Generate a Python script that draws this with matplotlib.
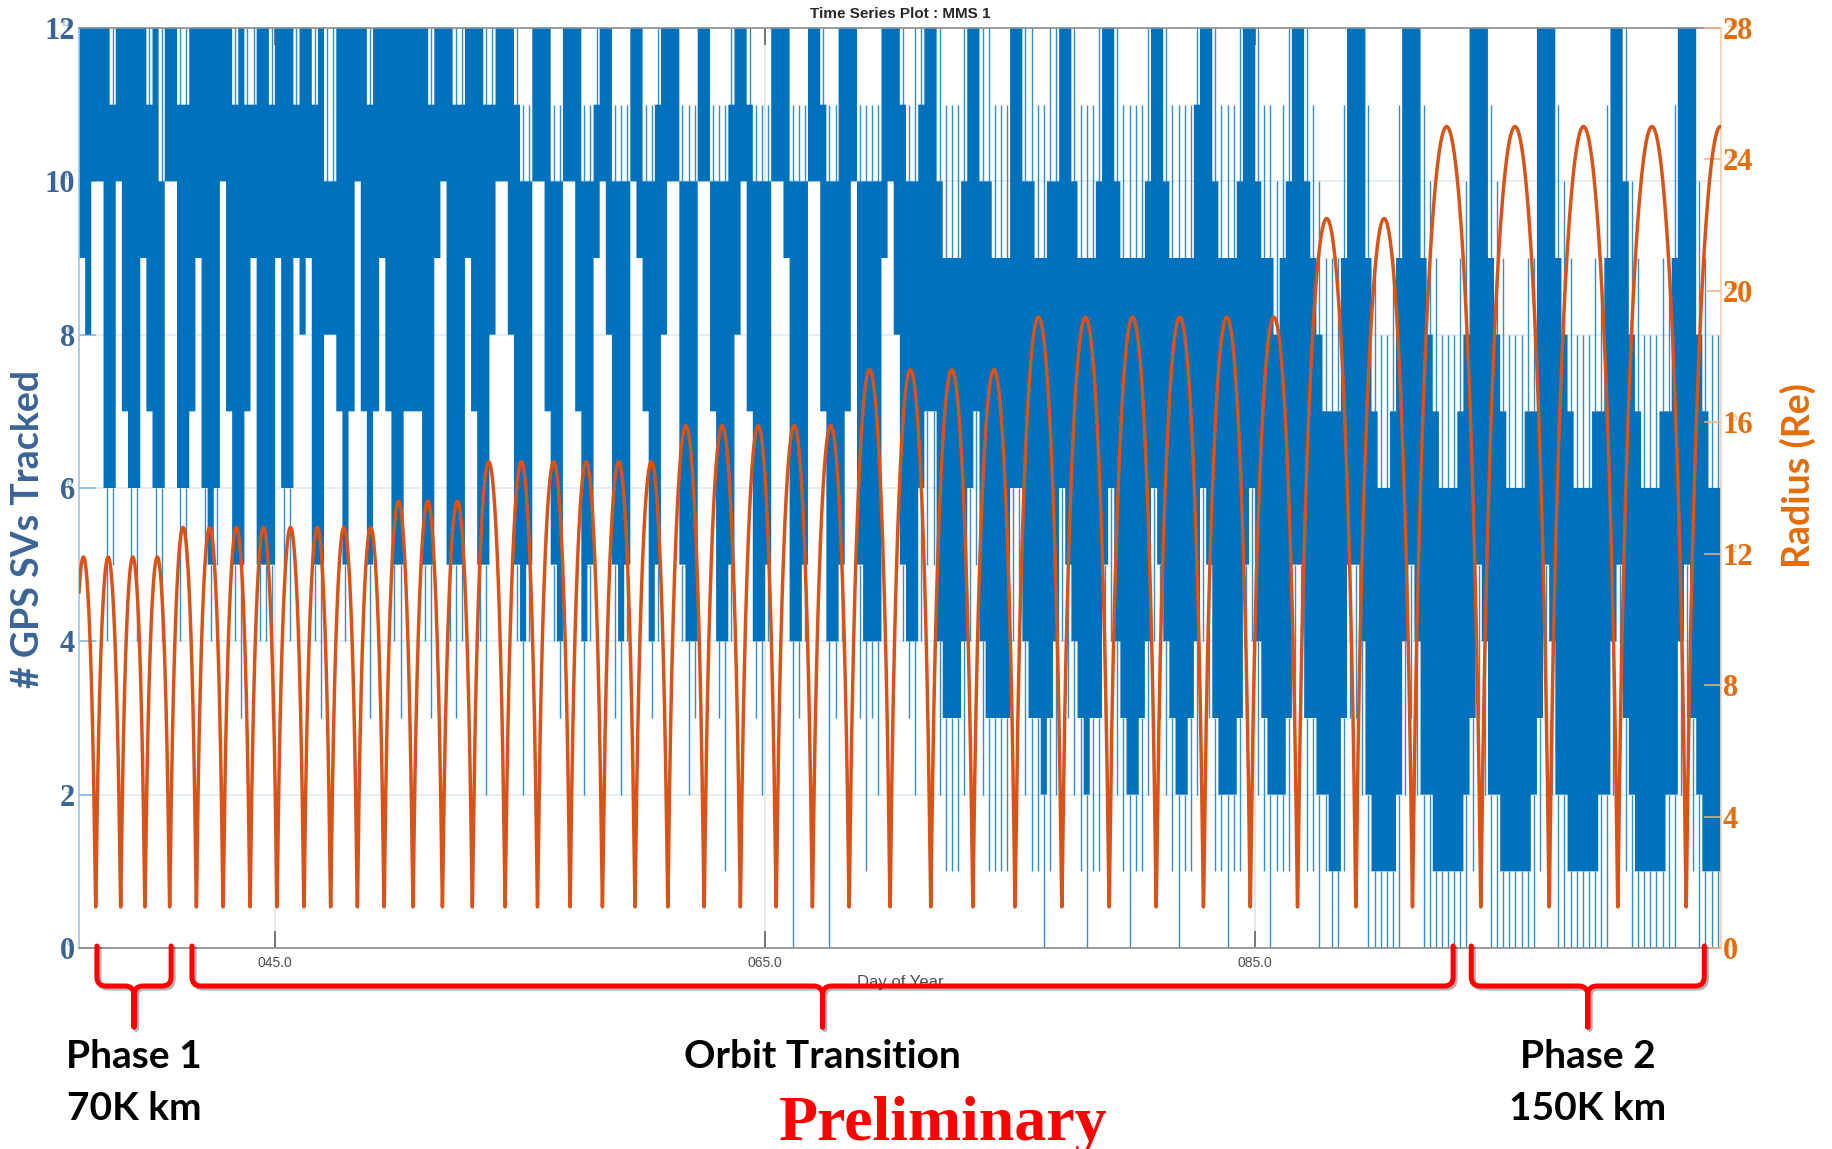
import numpy as np
import matplotlib
matplotlib.use("Agg")
import matplotlib.pyplot as plt
from matplotlib.path import Path
from matplotlib.patches import PathPatch
import matplotlib.patheffects as pe
import matplotlib.transforms as mtransforms

# ------------------------------------------------------------------ data
# Perigee passes (day of year) bounding each orbit, and the apogee radius (Re) of each orbit
perigee_days = [36.68, 37.68, 38.70, 39.69, 40.70, 41.79, 42.88, 43.98, 45.08, 46.18,
                47.27, 48.36, 49.45, 50.63, 51.83, 53.05, 54.39, 55.71, 57.04, 58.36,
                59.69, 61.03, 62.51, 63.99, 65.45, 66.93, 68.43, 70.10, 71.76, 73.48,
                75.20, 77.11, 79.04, 80.96, 82.89, 84.80, 86.73, 89.11, 91.42, 94.21,
                97.00, 99.80, 102.59, 105.38]
apogee_re = [11.9, 11.9, 11.9, 11.9,
             12.8, 12.8, 12.8, 12.8, 12.8, 12.8, 12.8, 12.8,
             13.6, 13.6, 13.6,
             14.8, 14.8, 14.8, 14.8, 14.8, 14.8,
             15.9, 15.9, 15.9, 15.9, 15.9,
             17.6, 17.6, 17.6, 17.6,
             19.2, 19.2, 19.2, 19.2, 19.2, 19.2,
             22.2, 22.2,
             25.0, 25.0, 25.0, 25.0, 25.0]
perigee_re = 1.25

# Number of GPS SVs tracked, per 0.25-day bin (hex digits, c = 12):
# the band the count stays in most of the time ...
svs_start_day = 37.0
svs_bin_days = 0.25
svs_high = ("cccccbcccc" "cbcaccbbcc" "cccccbcbbc" "cbcccbccbc" "aacccccbcc" "cccccccbcc" "cbbcccbb"
            "cccbaaccca" "acccaabcca" "aaccaabccc" "aaaccaaabc" "cbaaacccaa" "accbaaccca" "aaacccba"
            "abcca999ac" "caa999ccaa" "99aacca999" "acca9999ac" "ca9999bcca" "999acca998" "9acca9877"
            "79ccc97667" "9ccc987666" "78ccc98766" "677ccc9876" "66779cca87" "666779ccc8" "766")
svs_low = ("98aa66a766" "9766aa6679" "656a755795" "5596698955" "88757a7579" "755777559a" "55597558"
           "aa8545aa75" "4aa7459a85" "45a97458aa" "544aa74458" "a7445aa944" "5aa74457a5" "4449a854"
           "4677433346" "7433336643" "3234654323" "3564322346" "5432234653" "2223564322" "235533221"
           "1355421111" "2454221111" "1235422111" "1123542211" "1112245321" "1111224532" "111")
# ... and the extremes reached by brief jumps
svs_peak = ("cccccccccc" "cccccccccc" "cccccccccc" "cccccccccc" "cccccccccc" "cccccccccc" "cccccccc"
            "ccccbbcccb" "bcccbbcccb" "bbccbbcccc" "bbbccbbbcc" "ccbbbcccbb" "bcccbbcccb" "bbbccccb"
            "cccccbbbcc" "cccbbbcccc" "bbcccccbbb" "ccccbbbbcc" "ccbbbbcccc" "bbbccccbba" "bccccba99"
            "9bcccb9889" "bcccba9888" "9acccba988" "899cccba98" "8899bccca9" "88899bccca" "988")
svs_dip = ("98aa45a754" "9754aa4579" "545a743794" "4395498943" "88747a7379" "743777439a" "43497428"
           "aa8424aa74" "3aa7249a83" "24a97348aa" "423aa73148" "a7324aa903" "4aa70347a3" "1329a843"
           "2455211124" "5211114421" "1012432101" "1342101124" "3210112431" "1011342101" "113311010"
           "0133200000" "0232000000" "0013200000" "0001320000" "0000023100" "0000002310" "000")

x_limits = (37.0, 104.0)
x_ticks = [45, 65, 85]
x_tick_labels = ["045.0", "065.0", "085.0"]
left_ticks = [0, 2, 4, 6, 8, 10, 12]
right_ticks = [0, 4, 8, 12, 16, 20, 24, 28]

# Mission phases marked under the time axis: (line 1, line 2, first day, last day)
phases = [("Phase 1", "70K km", 37.73, 40.76),
          ("Orbit Transition", "", 41.61, 93.08),
          ("Phase 2", "150K km", 93.82, 103.33)]

# ------------------------------------------------------------------ derived series
def orbit_radius(t0, t1, ra, rp, n=700):
    """Radius along one Keplerian orbit between two perigee passes."""
    a = 0.5 * (ra + rp)
    e = (ra - rp) / (ra + rp)
    t = np.linspace(t0, t1, n)
    M = 2 * np.pi * (t - t0) / (t1 - t0)
    E = np.full_like(M, np.pi)
    for _ in range(40):
        E = E - (E - e * np.sin(E) - M) / (1 - e * np.cos(E))
    return t, a * (1 - e * np.cos(E))

t_parts, r_parts = [], []
for k, ra in enumerate(apogee_re):
    t, r = orbit_radius(perigee_days[k], perigee_days[k + 1], ra, perigee_re)
    t_parts.append(t)
    r_parts.append(r)
t_orbit = np.concatenate(t_parts)
r_orbit = np.concatenate(r_parts)
keep = (t_orbit >= x_limits[0]) & (t_orbit <= x_limits[1])
t_orbit, r_orbit = t_orbit[keep], r_orbit[keep]

def decode(s):
    return np.array([int(c, 16) for c in s], dtype=float)

svs_hi, svs_lo = decode(svs_high), decode(svs_low)
svs_top, svs_bot = decode(svs_peak), decode(svs_dip)
assert len(svs_hi) == len(svs_lo) == len(svs_top) == len(svs_bot)
svs_edges = svs_start_day + svs_bin_days * np.arange(len(svs_hi) + 1)

# ------------------------------------------------------------------ figure
W, H = 1833, 1149
fig = plt.figure(figsize=(W / 100, H / 100), dpi=100)
fig.patch.set_facecolor("white")
ax = fig.add_axes([79 / W, 1 - 948 / H, (1720.7 - 79) / W, 920 / H])
ax.set_axisbelow(True)

BLUE = "#0072BD"
ORANGE = "#D95319"
SLATE = "#3B6496"
AMBER = "#E46C0A"

ax.stairs(svs_hi, svs_edges, baseline=svs_lo, fill=True, color=BLUE, linewidth=0, zorder=1)

# brief jumps: one thin stroke in the middle of each bin
xs = svs_edges[:-1] + 0.5 * svs_bin_days
up = svs_top > svs_hi
dn = svs_bot < svs_lo
ax.vlines(xs[up], svs_hi[up], svs_top[up], colors=BLUE, linewidth=1.0, alpha=0.8, zorder=1)
ax.vlines(xs[dn], svs_bot[dn], svs_lo[dn], colors=BLUE, linewidth=1.0, alpha=0.8, zorder=1)

ax.set_xlim(*x_limits)
ax.set_ylim(0, 12)
ax.set_xticks(x_ticks)
ax.set_xticklabels(x_tick_labels)
ax.set_yticks(left_ticks)
ax.set_yticklabels([str(v) for v in left_ticks])

ax.grid(True, axis="y", color="#DDEBF7", linewidth=1.2)
ax.grid(True, axis="x", color="#E6E6E6", linewidth=1.5)

ax.tick_params(axis="x", direction="in", top=True, length=12, width=1.1, color="#595959",
               labelsize=10, labelcolor="#4D4D4D", pad=6)
for lab in ax.get_xticklabels():
    lab.set_fontfamily("Liberation Sans")
ax.tick_params(axis="y", direction="in", right=True, length=12, width=1.1, color="#7FB2E0",
               labelsize=22, labelcolor=SLATE, pad=3)
for lab in ax.get_yticklabels():
    lab.set_fontfamily("Liberation Serif")
    lab.set_fontweight("bold")

for side in ("top", "bottom"):
    ax.spines[side].set_color("#8C8C8C")
    ax.spines[side].set_linewidth(1.2)
ax.spines["left"].set_color("#9DC3E6")
ax.spines["left"].set_linewidth(1.2)
ax.spines["right"].set_visible(False)

ax.set_title("Time Series Plot : MMS 1", fontsize=11, fontweight="bold",
             fontfamily="Liberation Sans", color="#262626", pad=7)
ax.set_xlabel("Day of Year", fontsize=12, fontfamily="Liberation Sans", color="#4D4D4D")
ax.xaxis.set_label_coords(0.5, -0.037)
ax.xaxis.label.set_va("center")

ax.set_ylabel("# GPS SVs Tracked", fontsize=27, fontfamily="Lato", fontweight="bold", color=SLATE)
ax.yaxis.set_label_coords(-0.031, 0.455)
ax.yaxis.label.set_va("center")

# faint duplicate tick numbers sitting under the large ones
lt = mtransforms.blended_transform_factory(ax.transAxes, ax.transData)
for v in left_ticks:
    ax.text(-0.004, v + 0.06, str(v), transform=lt, ha="right", va="center", fontsize=8,
            color="#6FA8DC", fontfamily="Liberation Serif", zorder=0.3, clip_on=False)

# radius on the right-hand axis
ax2 = ax.twinx()
ax2.plot(t_orbit, r_orbit, color=ORANGE, linewidth=2.5, solid_joinstyle="round", zorder=3)
ax2.set_ylim(0, 28)
ax2.set_xlim(*x_limits)
ax2.set_yticks(right_ticks)
ax2.set_yticklabels([str(v) for v in right_ticks])
ax2.tick_params(axis="y", direction="in", length=12, width=1.1, color="#F4B183",
                labelsize=22, labelcolor=AMBER, pad=1.5)
for lab in ax2.get_yticklabels():
    lab.set_fontfamily("Liberation Serif")
    lab.set_fontweight("bold")
for side in ("top", "bottom", "left"):
    ax2.spines[side].set_visible(False)
ax2.spines["right"].set_color("#F8CBAD")
ax2.spines["right"].set_linewidth(1.2)
ax2.set_ylabel("Radius (Re)", fontsize=27, fontfamily="Lato", fontweight="bold", color=AMBER)
ax2.yaxis.set_label_coords(1.047, 0.513)
ax2.yaxis.label.set_va("center")

rt = mtransforms.blended_transform_factory(ax2.transAxes, ax2.transData)
for v in right_ticks:
    ax2.text(1.004, v + 0.12, str(v), transform=rt, ha="left", va="center", fontsize=8,
             color="#F4A46A", fontfamily="Liberation Serif", zorder=0.3, clip_on=False)

# ------------------------------------------------------------------ phase braces
def to_fig(xp, yp):
    return (xp / W, 1 - yp / H)

def brace(xl, xr, xm, y0=946, y1=986, y2=1027, r=9):
    left = [(xl, y0), (xl, y1 - r), (xl, y1), (xl + r, y1), (xm - r, y1), (xm, y1),
            (xm, y1 + r), (xm, y2)]
    right = [(xr, y0), (xr, y1 - r), (xr, y1), (xr - r, y1), (xm + r, y1), (xm, y1),
             (xm, y1 + r), (xm, y2)]
    codes = [Path.MOVETO, Path.LINETO, Path.CURVE3, Path.CURVE3, Path.LINETO,
             Path.CURVE3, Path.CURVE3, Path.LINETO]
    verts = [to_fig(*p) for p in left + right]
    return Path(verts, codes + codes)

fig.canvas.draw()
for line1, line2, d0, d1 in phases:
    xl = ax.transData.transform((d0, 0))[0]
    xr = ax.transData.transform((d1, 0))[0]
    xm = 0.5 * (xl + xr)
    patch = PathPatch(brace(xl, xr, xm), transform=fig.transFigure, fill=False,
                      edgecolor="#FF0000", linewidth=3.6, capstyle="round", joinstyle="round",
                      zorder=5)
    patch.set_path_effects([pe.SimpleLineShadow(offset=(1.5, -1.5), alpha=0.3), pe.Normal()])
    fig.add_artist(patch)
    fig.text(xm / W, 1 - 1057 / H, line1, ha="center", va="center", fontsize=28,
             fontfamily="Lato", fontweight="bold", color="black")
    if line2:
        fig.text(xm / W, 1 - 1108 / H, line2, ha="center", va="center", fontsize=28,
                 fontfamily="Lato", fontweight="bold", color="black")

fig.text(943 / W, 1 - 1140 / H, "Preliminary", ha="center", va="baseline", fontsize=46,
         fontfamily="Liberation Serif", fontweight="bold", color="#FF0000")

fig.savefig("out.png", dpi=100)
